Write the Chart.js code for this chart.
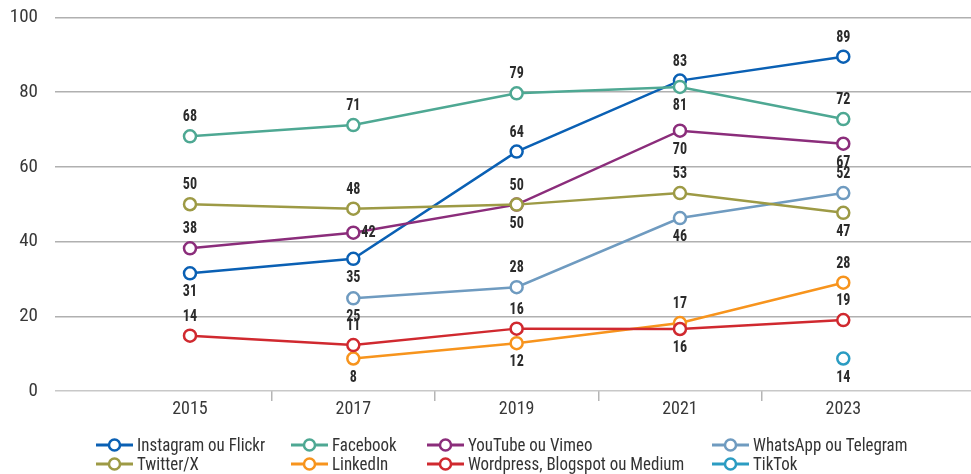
<!DOCTYPE html>
<html><head><meta charset="utf-8">
<script src="https://cdn.jsdelivr.net/npm/chart.js@4/dist/chart.umd.min.js"></script>
<style>html,body{margin:0;padding:0;background:#fff}#wrap{width:971px;height:474px}</style>
</head><body><div id="wrap"><canvas id="c" width="971" height="474"></canvas></div>
<script>
// ---- data ----
const years = [2015, 2017, 2019, 2021, 2023];
const yTicks = [0, 20, 40, 60, 80, 100];
const seriesNames = ["Instagram ou Flickr", "Facebook", "YouTube ou Vimeo", "WhatsApp ou Telegram",
                     "Twitter/X", "LinkedIn", "Wordpress, Blogspot ou Medium", "TikTok"];
// plotted values (as drawn) and printed labels
const instagram       = [31.5, 35.4, 64.1, 83.1, 89.5];
const instagramLabels = [31, 35, 64, 83, 89];
const facebook        = [68.2, 71.2, 79.7, 81.4, 72.8];
const facebookLabels  = [68, 71, 79, 81, 72];
const youtube         = [38.2, 42.4, 49.9, 69.7, 66.2];
const youtubeLabels   = [38, 42, 50, 70, 67];
const whatsapp        = [null, 24.8, 27.8, 46.3, 53.0];
const whatsappLabels  = [null, 25, 28, 46, 52];
const twitter         = [50.0, 48.8, 49.9, 53.0, 47.7];
const twitterLabels   = [50, 48, 50, 53, 47];
const linkedin        = [null, 8.7, 12.8, 18.2, 29.0];
const linkedinLabels  = [null, 8, 12, 17, 28];
const wordpress       = [14.8, 12.3, 16.7, 16.6, 19.0];
const wordpressLabels = [14, 11, 16, 16, 19];
const tiktok          = [null, null, null, null, 8.7];
const tiktokLabels    = [null, null, null, null, 14];

// label placement (t = above, b = below, r = right)
const instagramPos = ["b","b","t","t","t"];
const facebookPos  = ["t","t","t","b","t"];
const youtubePos   = ["t","r","b","b","b"];
const whatsappPos  = [null,"b","t","b","t"];
const twitterPos   = ["t","t","t","t","b"];
const linkedinPos  = [null,"b","b","t","t"];
const wordpressPos = ["t","t","t","b","t"];
const tiktokPos    = [null,null,null,null,"b"];

const colors = ["#0a60b4", "#4ea893", "#8b2d7b", "#6f9bc0", "#9d9a45", "#f7941d", "#d0292f", "#2b9cc2"];

const FONT = '"Liberation Sans Narrow", "Roboto Condensed", "Arial Narrow", Roboto, sans-serif';

const allVals = [instagram, facebook, youtube, whatsapp, twitter, linkedin, wordpress, tiktok];
const allLbls = [instagramLabels, facebookLabels, youtubeLabels, whatsappLabels, twitterLabels, linkedinLabels, wordpressLabels, tiktokLabels];
const allPos  = [instagramPos, facebookPos, youtubePos, whatsappPos, twitterPos, linkedinPos, wordpressPos, tiktokPos];

function buildPoints(vals, lbls, pos) {
  const pts = [];
  years.forEach((yr, i) => {
    if (vals[i] !== null) pts.push({ x: yr, y: vals[i], lbl: lbls[i], pos: pos[i] });
  });
  return pts;
}

const datasets = seriesNames.map((name, k) => ({
  label: name,
  data: buildPoints(allVals[k], allLbls[k], allPos[k]),
  borderColor: colors[k],
  backgroundColor: "#ffffff",
  pointBackgroundColor: "#ffffff",
  pointBorderColor: colors[k],
  borderWidth: 2.5,
  pointRadius: 6,
  pointBorderWidth: 2.5,
  pointHoverRadius: 6,
  tension: 0,
  order: seriesNames.length - k
}));

function narrowText(ctx, text, x, y, align, sx) {
  ctx.save();
  ctx.translate(x, y);
  ctx.scale(sx, 1);
  ctx.textAlign = align;
  ctx.fillText(text, 0, 0);
  ctx.restore();
}

const labelPlugin = {
  id: "pointLabels",
  afterDatasetsDraw(chart) {
    const ctx = chart.ctx;
    ctx.save();
    ctx.font = "bold 16px " + FONT;
    ctx.fillStyle = "#2b2b2b";
    ctx.textBaseline = "middle";
    chart.data.datasets.forEach((ds, k) => {
      const meta = chart.getDatasetMeta(k);
      meta.data.forEach((pt, i) => {
        const raw = ds.data[i];
        let x = pt.x, y = pt.y, align = "center";
        if (raw.pos === "t") { y -= 19; }
        else if (raw.pos === "b") { y += 19; }
        else { align = "left"; x += 8; }
        narrowText(ctx, String(raw.lbl), x, y, align, 0.88);
      });
    });
    ctx.restore();
  }
};

const legendPlugin = {
  id: "gridLegend",
  afterDraw(chart) {
    const ctx = chart.ctx;
    const cols = [96, 291, 427, 712];
    const rows = [445, 464];
    ctx.save();
    ctx.font = "19px " + FONT;
    ctx.textBaseline = "middle";
    chart.data.datasets.forEach((ds, k) => {
      const cx = cols[k % 4], cy = rows[Math.floor(k / 4)];
      ctx.strokeStyle = ds.borderColor;
      ctx.lineWidth = 3;
      ctx.beginPath(); ctx.moveTo(cx, cy); ctx.lineTo(cx + 37, cy); ctx.stroke();
      ctx.beginPath(); ctx.arc(cx + 18.5, cy, 5.5, 0, Math.PI * 2);
      ctx.fillStyle = "#ffffff"; ctx.fill();
      ctx.lineWidth = 2.5; ctx.stroke();
      ctx.fillStyle = "#333333";
      narrowText(ctx, ds.label, cx + 41, cy + 1, "left", 0.89);
    });
    ctx.restore();
  }
};

new Chart(document.getElementById("c"), {
  type: "line",
  data: { datasets },
  plugins: [labelPlugin, legendPlugin],
  options: {
    responsive: false,
    animation: false,
    layout: { autoPadding: false, padding: { top: 17.5, right: 0, bottom: 49, left: 0 } },
    plugins: { legend: { display: false }, tooltip: { enabled: false } },
    scales: {
      x: {
        type: "linear",
        min: 2013.347,
        max: 2024.564,
        afterBuildTicks(axis) {
          const t = [];
          for (let v = years[0]; v <= years[years.length - 1]; v++) t.push({ value: v });
          axis.ticks = t;
        },
        afterFit(scale) { scale.height = 34; scale.paddingLeft = 0; scale.paddingRight = 0; },
        border: { display: false },
        grid: {
          drawOnChartArea: false,
          drawTicks: true,
          tickLength: 10,
          lineWidth: 1.5,
          color: (c) => (c.tick && years.indexOf(c.tick.value) < 0) ? "#b5b5b5" : "rgba(0,0,0,0)"
        },
        ticks: {
          autoSkip: false,
          maxRotation: 0,
          padding: -2,
          color: "#383838",
          font: { family: FONT, size: 18 },
          callback: (v) => years.indexOf(v) >= 0 ? String(v) : ""
        }
      },
      y: {
        min: 0,
        max: 100,
        afterBuildTicks(axis) { axis.ticks = yTicks.map(v => ({ value: v })); },
        afterFit(scale) { scale.width = 55; scale.paddingTop = 0; scale.paddingBottom = 0; },
        border: { display: false },
        grid: {
          drawTicks: false,
          lineWidth: 1.5,
          color: (c) => (c.tick && c.tick.value === 0) ? "#c8c8c8" : "#b0b0b0"
        },
        ticks: {
          padding: 17,
          color: "#383838",
          font: { family: FONT, size: 19 }
        }
      }
    }
  }
});
</script>
</body></html>
